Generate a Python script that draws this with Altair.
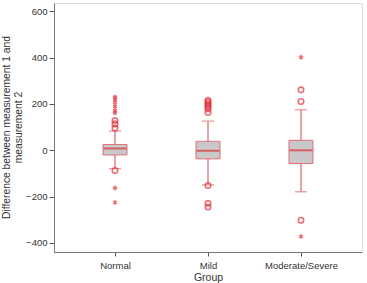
import altair as alt
import pandas as pd

# Box statistics per group
groups = ["Normal", "Mild", "Moderate/Severe"]
q1 = [-20, -37, -57]
median = [8, -2, 0]
q3 = [25, 39, 43]
whisker_low = [-79, -149, -179]
whisker_high = [83, 126, 175]

# Outliers: circles (mild) and asterisks (extreme)
circle_group = ["Normal"] * 4 + ["Mild"] * 10 + ["Moderate/Severe"] * 3
circle_value = [-87, 96, 114, 129,
                -152, -229, -245, 163, 178, 186, 194, 202, 210, 216,
                211, 261, -302]
star_group = ["Normal"] * 8 + ["Moderate/Severe"] * 2
star_value = [-163, -225, 161, 172, 189, 206, 221, 230, 402, -372]

# Axis ticks: labelled every 200, minor marks every 50
y_ticks = list(range(-400, 601, 50))

boxes = pd.DataFrame({"group": groups, "q1": q1, "median": median, "q3": q3,
                      "lo": whisker_low, "hi": whisker_high})
circles = pd.DataFrame({"group": circle_group, "value": circle_value})
stars = pd.DataFrame({"group": star_group, "value": star_value})

RED = "#e0323c"
PINK = "#e07078"
FONT = "Liberation Sans"

xscale = alt.Scale(type="point", domain=groups, padding=0.656)
yscale = alt.Scale(domain=[-439, 636], nice=False, zero=False)

x_enc = alt.X("group:N", scale=xscale, sort=groups,
              axis=alt.Axis(title="Group", labelAngle=0, labelFontSize=9.5,
                            labelColor="#333", titleFontSize=10.5,
                            titleColor="#333", titleFontWeight="normal",
                            domainColor="#777", tickColor="#555", tickSize=4,
                            labelPadding=4, titlePadding=3,
                            labelFont=FONT, titleFont=FONT))

y_axis = alt.Axis(title=["Difference between measurement 1 and", "measurement 2"],
                  values=y_ticks,
                  labelExpr="datum.value % 200 == 0 ? datum.label : ''",
                  tickSize={"expr": "datum.value % 200 == 0 ? 5 : 3"},
                  labelFontSize=9.5, labelColor="#333",
                  titleFontSize=10.3, titleColor="#333", titleFontWeight="normal",
                  titleLineHeight=12.5, titleY=124,
                  domainColor="#777", tickColor="#555", grid=False,
                  labelPadding=2, titlePadding=2, labelFont=FONT, titleFont=FONT)

base = alt.Chart(boxes)

whisk_lo = base.mark_rule(color=PINK, strokeWidth=1.3).encode(
    x=x_enc, y=alt.Y("lo:Q", scale=yscale, axis=y_axis), y2="q1:Q")
whisk_hi = base.mark_rule(color=PINK, strokeWidth=1.3).encode(
    x="group:N", y="q3:Q", y2="hi:Q")
cap_lo = base.mark_tick(color=PINK, size=12, thickness=1.3).encode(
    x="group:N", y="lo:Q")
cap_hi = base.mark_tick(color=PINK, size=12, thickness=1.3).encode(
    x="group:N", y="hi:Q")
box = base.mark_bar(size=24, color="#c9c9c9", stroke=PINK, strokeWidth=1).encode(
    x="group:N", y="q1:Q", y2="q3:Q")
med = base.mark_tick(color=RED, size=23, thickness=2).encode(
    x="group:N", y="median:Q")

circ = alt.Chart(circles).mark_point(shape="circle", filled=False, color=RED,
                                     size=30, strokeWidth=1.6).encode(
    x="group:N", y="value:Q")

ASTERISK = "M0,-1L0,1M-0.87,-0.5L0.87,0.5M-0.87,0.5L0.87,-0.5"
star = alt.Chart(stars).mark_point(shape=ASTERISK, filled=False, color=RED,
                                   size=22, strokeWidth=1.4).encode(
    x="group:N", y="value:Q")

chart = alt.layer(whisk_lo, whisk_hi, cap_lo, cap_hi, box, med, circ, star).properties(
    width=308, height=249,
    autosize=alt.AutoSizeParams(type="none"),
    padding={"left": 54, "top": 3, "right": 5, "bottom": 31},
).configure_view(stroke="#888", strokeWidth=1.2).configure(background="white")

chart.save("out.html", embed_options={"renderer": "svg", "actions": False})
